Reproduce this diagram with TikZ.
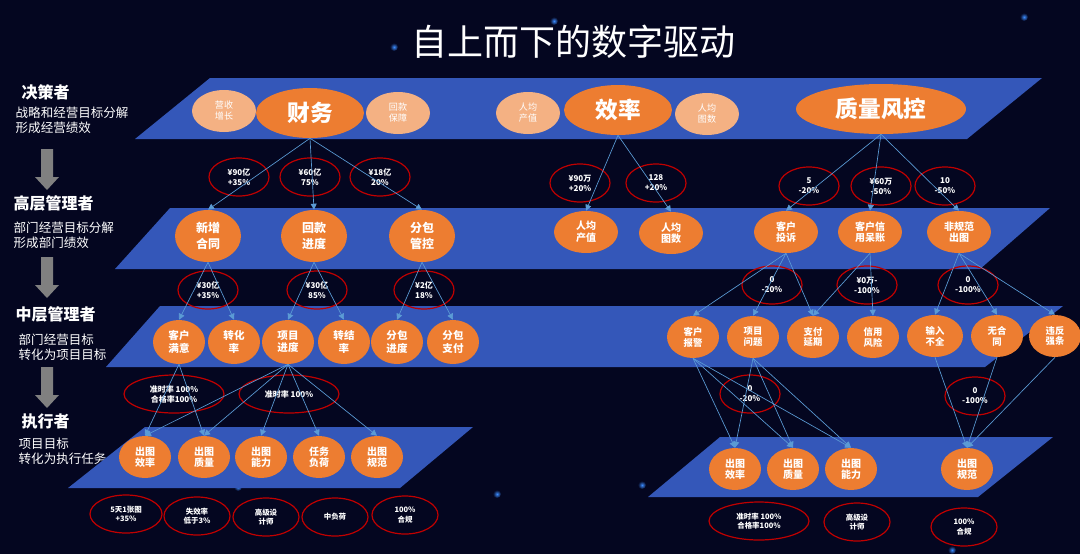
\documentclass[tikz,border=0pt]{standalone}
\usepackage{fontspec}
\setmainfont{Noto Sans CJK SC}
\usetikzlibrary{shapes,arrows.meta,positioning}

\definecolor{bgnavy}{RGB}{4,6,32}
\definecolor{bandblue}{RGB}{52,87,185}
\definecolor{ovorange}{RGB}{237,125,49}
\definecolor{peach}{RGB}{244,177,131}
\definecolor{goalred}{RGB}{192,0,0}
\definecolor{linkblue}{RGB}{91,155,213}
\definecolor{arrowgray}{RGB}{128,128,128}
\definecolor{starblue}{RGB}{60,140,255}

\tikzset{
  band/.style={fill=bandblue},
  ov/.style={ellipse, fill=ovorange, text=white, inner sep=0pt, align=center},
  bigov/.style={ov, minimum width=81pt, minimum height=37.5pt, font=\bfseries\fontsize{17}{20}\selectfont},
  lightov/.style={ov, fill=peach, minimum width=48pt, minimum height=31.5pt, font=\fontsize{6.8}{8.2}\selectfont},
  mgrov/.style={ov, minimum width=49.5pt, minimum height=39pt, font=\bfseries\fontsize{9}{11.6}\selectfont},
  dov/.style={ov, minimum width=48pt, minimum height=31.5pt, font=\bfseries\fontsize{7.5}{8.6}\selectfont},
  pov/.style={ov, minimum width=39pt, minimum height=33pt, font=\bfseries\fontsize{7.9}{9.2}\selectfont},
  rov/.style={ov, minimum width=39pt, minimum height=31.5pt, font=\bfseries\fontsize{7}{8.2}\selectfont},
  eov/.style={ov, minimum width=39pt, minimum height=31.5pt, font=\bfseries\fontsize{7.5}{8.4}\selectfont},
  goal/.style={ellipse, draw=goalred, line width=0.9pt, text=white, inner sep=0pt, align=center,
    minimum width=45pt, minimum height=28.5pt, font=\bfseries\fontsize{6}{7.5}\selectfont},
  widegoal/.style={goal, minimum width=75pt},
  botgoal/.style={goal, minimum width=49.5pt, font=\bfseries\fontsize{5.6}{7}\selectfont},
  conn/.style={draw=linkblue, line width=0.5pt, -{Triangle[length=4.5pt,width=4.5pt]}},
  head/.style={anchor=west, text=white, font=\bfseries\fontsize{12}{14}\selectfont},
  sub/.style={anchor=west, align=left, text=white, font=\fontsize{9.4}{11.25}\selectfont},
}

\begin{document}
\begin{tikzpicture}[x=0.75pt,y=-0.75pt]
  % background
  \fill[bgnavy] (0,0) rectangle (1080,554);
  \useasboundingbox (0,0) rectangle (1080,554);
  \foreach \sx/\sy in {554/21, 1024/17, 238/487, 642/485, 952/550, 497/494, 394/47}
    \shade[inner color=starblue, outer color=bgnavy] (\sx,\sy) circle (4);

  % title
  \node[text=white, font=\fontsize{27}{30}\selectfont] (title) at (573,42) {自上而下的数字驱动};

  % left column
  \node[head] (l1) at (17,92) {决策者};
  \node[sub] (l1s) at (11,120) {战略和经营目标分解\\形成经营绩效};
  \node[head] (l2) at (9,203) {高层管理者};
  \node[sub] (l2s) at (9,235) {部门经营目标分解\\形成部门绩效};
  \node[head] (l3) at (11,314) {中层管理者};
  \node[sub] (l3s) at (14,347) {部门经营目标\\转化为项目目标};
  \node[head] (l4) at (17,421) {执行者};
  \node[sub] (l4s) at (14,451) {项目目标\\转化为执行任务};
  \foreach \y in {149,257,367}
    \fill[arrowgray] (41,\y) -- (53,\y) -- (53,\y+28) -- (59,\y+28) -- (47,\y+41) -- (35,\y+28) -- (41,\y+28) -- cycle;

  % bands
  \fill[band] (210,78) -- (1042,78) -- (967,139) -- (135,139) -- cycle;
  \fill[band] (170,208) -- (1050,208) -- (980,269) -- (115,269) -- cycle;
  \fill[band] (160,306) -- (1063,306) -- (985,367) -- (106,367) -- cycle;
  \fill[band] (145,427) -- (473,427) -- (400,488) -- (68,488) -- cycle;
  \fill[band] (720,437) -- (1053,437) -- (978,497) -- (648,497) -- cycle;

  % decision level
  \node[lightov] (revg) at (224,111) {营收\\增长};
  \node[bigov] (fin) at (310,113) {财务};
  \node[lightov] (payg) at (398,113) {回款\\保障};
  \node[lightov] (ppv) at (528,113) {人均\\产值};
  \node[bigov] (eff) at (618,110) {效率};
  \node[lightov] (ppd) at (707,114) {人均\\图数};
  \node[bigov, minimum width=127.5pt] (risk) at (881,109) {质量风控};

  \node[goal] (g90y) at (239,177) {¥90亿\\+35\%};
  \node[goal] (g60y) at (310,177) {¥60亿\\75\%};
  \node[goal] (g18y) at (380,177) {¥18亿\\20\%};
  \node[goal] (g90w) at (580,183) {¥90万\\+20\%};
  \node[goal] (g128) at (656,183) {128\\+20\%};
  \node[goal] (g5) at (809,186) {5\\-20\%};
  \node[goal] (g60w) at (881,186) {¥60万\\-50\%};
  \node[goal] (g10) at (945,186) {10\\-50\%};

  % senior level
  \node[mgrov] (newc) at (208,236) {新增\\合同};
  \node[mgrov] (payp) at (314,236) {回款\\进度};
  \node[mgrov] (subc) at (422,236) {分包\\管控};
  \node[dov] (ppv2) at (586,232) {人均\\产值};
  \node[dov] (ppd2) at (671,233) {人均\\图数};
  \node[dov] (comp) at (786,232) {客户\\投诉};
  \node[dov] (cred) at (870,232) {客户信\\用呆账};
  \node[dov] (nstd) at (959,232) {非规范\\出图};

  \node[goal] (g30a) at (208,290) {¥30亿\\+35\%};
  \node[goal] (g30b) at (317,290) {¥30亿\\85\%};
  \node[goal] (g2y) at (424,290) {¥2亿\\18\%};
  \node[goal] (g0a) at (772,285) {0\\-20\%};
  \node[goal] (g0w) at (867,285) {¥0万-\\-100\%};
  \node[goal] (g0b) at (968,285) {0\\-100\%};

  % middle level
  \node[pov] (sat) at (179,342) {客户\\满意};
  \node[pov] (conv) at (234,342) {转化\\率};
  \node[pov] (prog) at (288,342) {项目\\进度};
  \node[pov] (clos) at (344,342) {转结\\率};
  \node[pov] (subp) at (397,342) {分包\\进度};
  \node[pov] (subpay) at (453,342) {分包\\支付};
  \node[rov] (alarm) at (693,337) {客户\\报警};
  \node[rov] (issue) at (753,337) {项目\\问题};
  \node[rov] (delay) at (813,337) {支付\\延期};
  \node[rov] (crisk) at (873,337) {信用\\风险};
  \node[rov, minimum width=42pt] (incomp) at (935,336) {输入\\不全};
  \node[rov] (nocon) at (997,336) {无合\\同};
  \node[rov] (viol) at (1055,336) {违反\\强条};

  \node[widegoal] (gta) at (174,394) {准时率 100\%\\合格率100\%};
  \node[widegoal] (gtb) at (289,394) {准时率 100\%};
  \node[goal] (g0c) at (750,394) {0\\-20\%};
  \node[goal] (g0d) at (975,396) {0\\-100\%};

  % executor level
  \node[eov] (effa) at (145,457) {出图\\效率};
  \node[eov] (quaa) at (204,457) {出图\\质量};
  \node[eov] (capa) at (261,457) {出图\\能力};
  \node[eov] (loada) at (319,457) {任务\\负荷};
  \node[eov] (stda) at (377,457) {出图\\规范};
  \node[eov] (effb) at (735,469) {出图\\效率};
  \node[eov] (quab) at (793,469) {出图\\质量};
  \node[eov] (capb) at (851,469) {出图\\能力};
  \node[eov] (stdb) at (967,469) {出图\\规范};

  \node[botgoal, minimum width=54pt] (b1) at (126,514) {5天1张图\\+35\%};
  \node[botgoal] (b2) at (197,516) {失效率\\低于3\%};
  \node[botgoal] (b3) at (266,517) {高级设\\计师};
  \node[botgoal] (b4) at (335,517) {中负荷};
  \node[botgoal] (b5) at (405,515) {100\%\\合规};
  \node[botgoal, minimum width=75pt] (b6) at (759,521) {准时率 100\%\\合格率100\%};
  \node[botgoal] (b7) at (857,522) {高级设\\计师};
  \node[botgoal] (b8) at (964,527) {100\%\\合规};

  % connectors
  \foreach \a/\b in {fin/newc, fin/payp, fin/subc, eff/ppv2, eff/ppd2,
      risk/comp, risk/cred, risk/nstd,
      newc/sat, newc/conv, payp/prog, payp/clos, subc/subp, subc/subpay,
      comp/alarm, comp/issue, comp/delay, cred/delay, cred/crisk,
      nstd/incomp, nstd/nocon, nstd/viol,
      sat/effa, sat/quaa, prog/effa, prog/quaa, prog/capa, prog/loada, prog/stda,
      alarm/effb, alarm/quab, alarm/capb, issue/effb, issue/quab, issue/capb,
      incomp/stdb, nocon/stdb, viol/stdb}
    \draw[conn] (\a.south) -- (\b.north);
\end{tikzpicture}
\end{document}
